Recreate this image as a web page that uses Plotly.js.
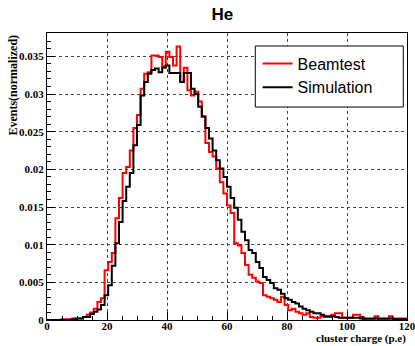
<!DOCTYPE html>
<html>
<head>
<meta charset="utf-8">
<script src="https://cdn.plot.ly/plotly-3.0.1.min.js"></script>
<style>html,body{margin:0;padding:0;background:#fff;}#chart{width:415px;height:346px;}</style>
</head>
<body>
<div id="chart"></div>
<script>
// Histogram binning: 100 bins from 0 to 120 (cluster charge, p.e)
var xMin = 0, xMax = 120, nBins = 100;

// Beamtest (red), normalized bin contents
var beamtest = [
  0, 0, 0, 0, 0.0001, 0.0001, 0.0001, 0.0002, 0.0002, 0.0002,
  0.0004, 0.0007, 0.0010, 0.0015, 0.0024, 0.0029, 0.0066, 0.0077, 0.0089, 0.0135,
  0.0162, 0.0195, 0.0203, 0.0225, 0.0255, 0.0272, 0.0307, 0.0327, 0.0329, 0.0351,
  0.0351, 0.0349, 0.0337, 0.0356, 0.0349, 0.0338, 0.0363, 0.0316, 0.0335, 0.0305,
  0.0298, 0.0303, 0.0290, 0.0270, 0.0235, 0.0223, 0.0217, 0.0201, 0.0183, 0.0168,
  0.0152, 0.0142, 0.0102, 0.0099, 0.0089, 0.0073, 0.0060, 0.0056, 0.0051, 0.0049,
  0.0033, 0.0031, 0.0029, 0.0027, 0.0024, 0.0031, 0.0020, 0.0013, 0.0015, 0.0011,
  0.0009, 0.0007, 0.0009, 0.0004, 0.0003, 0.0003, 0.0005, 0.0004, 0.0004, 0.0007,
  0.0009, 0.0009, 0.0003, 0.0003, 0.0003, 0.0007, 0.0007, 0.0004, 0.0001, 0.0001,
  0.0001, 0.0005, 0.0001, 0.0001, 0.0001, 0.0005, 0.0002, 0.0002, 0.0002, 0.0002
];

// Simulation (black), normalized bin contents
var simulation = [
  0, 0, 0, 0, 0, 0, 0, 0.0001, 0.0002, 0.0002,
  0.0004, 0.0004, 0.0008, 0.0011, 0.0014, 0.0020, 0.0033, 0.0046, 0.0072, 0.0102,
  0.0130, 0.0158, 0.0177, 0.0195, 0.0232, 0.0259, 0.0298, 0.0316, 0.0327, 0.0332,
  0.0334, 0.0329, 0.0335, 0.0338, 0.0328, 0.0328, 0.0328, 0.0316, 0.0328, 0.0328,
  0.0307, 0.0300, 0.0283, 0.0270, 0.0255, 0.0241, 0.0225, 0.0212, 0.0201, 0.0190,
  0.0177, 0.0162, 0.0149, 0.0133, 0.0117, 0.0106, 0.0093, 0.0089, 0.0077, 0.0069,
  0.0057, 0.0053, 0.0049, 0.0042, 0.0040, 0.0035, 0.0029, 0.0027, 0.0024, 0.0022,
  0.0018, 0.0015, 0.0013, 0.0011, 0.0009, 0.0009, 0.0007, 0.0005, 0.0005, 0.0005,
  0.0004, 0.0003, 0.0003, 0.0003, 0.0003, 0.0003, 0.0003, 0.0002, 0.0002, 0.0002,
  0.0002, 0.0002, 0.0002, 0.0002, 0.0002, 0.0002, 0.0001, 0.0001, 0.0001, 0.0001
];

var seriesNames = ["Beamtest", "Simulation"];
var xTickVals = [0, 20, 40, 60, 80, 100, 120];
var xTickText = ["0", "20", "40", "60", "80", "100", "120"];
var yTickVals = [0, 0.005, 0.01, 0.015, 0.02, 0.025, 0.03, 0.035];
var yTickText = ["0", "0.005", "0.01", "0.015", "0.02", "0.025", "0.03", "0.035"];

// Build step outlines from the bin contents (bin edges + repeated last value)
function stepXY(vals) {
  var w = (xMax - xMin) / nBins, xs = [], ys = [];
  for (var i = 0; i < vals.length; i++) { xs.push(xMin + i * w); ys.push(vals[i]); }
  xs.push(xMax); ys.push(vals[vals.length - 1]);
  return {x: xs, y: ys};
}
var r = stepXY(beamtest), s = stepXY(simulation);

var traces = [
  {x: r.x, y: r.y, type: 'scatter', mode: 'lines', name: seriesNames[0], legendgroup: 'a',
   line: {shape: 'hv', color: '#ff0000', width: 2}},
  {x: s.x, y: s.y, type: 'scatter', mode: 'lines', name: seriesNames[1], legendgroup: 'b',
   line: {shape: 'hv', color: '#000000', width: 2}}
];

var tickFont = {family: 'Liberation Serif, Times New Roman, serif', size: 11, color: '#000'};
var layout = {
  width: 415, height: 346,
  margin: {l: 47, r: 8, t: 33, b: 26, pad: 0},
  paper_bgcolor: '#fff', plot_bgcolor: '#fff',
  showlegend: true,
  title: {text: '<b>He</b>', x: 0.536, xanchor: 'center', y: 0.958, yanchor: 'middle',
          font: {family: 'Liberation Sans, Arial, sans-serif', size: 17, color: '#000'}},
  xaxis: {
    range: [xMin, xMax], tickmode: 'array', tickvals: xTickVals, ticktext: xTickText.map(function(t){return '<b>'+t+'</b>';}),
    ticks: 'inside', ticklen: 8, tickcolor: '#000', tickwidth: 1,
    minor: {dtick: 5, ticks: 'inside', ticklen: 4, tickcolor: '#000', showgrid: false},
    showgrid: true, gridcolor: '#444', griddash: 'dot', gridwidth: 1,
    showline: true, linecolor: '#000', linewidth: 1, mirror: true,
    zeroline: false, tickfont: tickFont, ticklabeloverflow: 'allow', ticklabelstandoff: -4
  },
  yaxis: {
    range: [0, 0.0381], tickmode: 'array', tickvals: yTickVals, ticktext: yTickText.map(function(t){return '<b>'+t+'</b>';}),
    ticks: 'inside', ticklen: 8, tickcolor: '#000', tickwidth: 1,
    minor: {dtick: 0.001, ticks: 'inside', ticklen: 4, tickcolor: '#000', showgrid: false},
    showgrid: true, gridcolor: '#444', griddash: 'dot', gridwidth: 1,
    showline: true, linecolor: '#000', linewidth: 1, mirror: true,
    zeroline: false, tickfont: tickFont, ticklabeloverflow: 'allow'
  },
  legend: {
    x: 0.585, y: 0.953, xanchor: 'left', yanchor: 'top',
    bgcolor: 'rgba(0,0,0,0)', borderwidth: 0,
    font: {family: 'Liberation Sans, Arial, sans-serif', size: 16, color: '#000'},
    itemwidth: 30, tracegroupgap: 15, traceorder: 'normal'
  },
  shapes: [
    {type: 'rect', xref: 'paper', yref: 'paper', x0: 0.5786, x1: 0.9897, y0: 0.742, y1: 0.9547,
     layer: 'above', fillcolor: '#fff', line: {color: '#000', width: 1}}
  ],
  annotations: [
    {text: '<b>Events(normalized)</b>', xref: 'paper', yref: 'paper', x: -0.097, y: 1.0,
     xanchor: 'center', yanchor: 'top', textangle: -90, showarrow: false,
     font: {family: 'Liberation Serif, Times New Roman, serif', size: 12, color: '#000'}},
    {text: '<b>cluster charge (p.e)</b>', xref: 'paper', yref: 'paper', x: 1.0, y: -0.0906,
     xanchor: 'right', yanchor: 'bottom', showarrow: false, borderpad: 0,
     font: {family: 'Liberation Serif, Times New Roman, serif', size: 11, color: '#000'}}
  ]
};

Plotly.newPlot('chart', traces, layout, {staticPlot: true, displayModeBar: false});
</script>
</body>
</html>
